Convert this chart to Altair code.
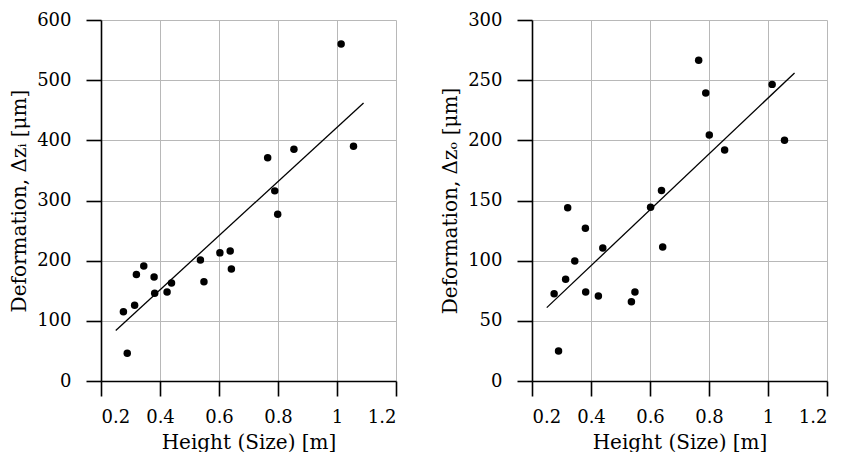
import altair as alt
import pandas as pd

# Heights [m] and deformations
height_i = [0.276, 0.289, 0.314, 0.320, 0.345, 0.380, 0.382, 0.424, 0.439, 0.537,
            0.549, 0.603, 0.638, 0.642, 0.765, 0.789, 0.799, 0.854, 1.014, 1.056]
dz_i = [115, 46, 126, 177, 191, 173, 146, 148, 163, 201,
        165, 213, 216, 186, 371, 316, 277, 385, 560, 390]

height_o = [0.275, 0.290, 0.314, 0.321, 0.345, 0.381, 0.382, 0.425, 0.440, 0.537,
            0.549, 0.602, 0.639, 0.643, 0.765, 0.789, 0.801, 0.853, 1.014, 1.056]
dz_o = [72.5, 25, 84.5, 144, 99.7, 127, 74, 70.7, 110.6, 65.8,
        74, 144.3, 158.4, 111.4, 266.6, 239.4, 204.4, 192, 246.5, 200]

# Linear fit lines (end points)
fit_x = [0.25, 1.09]
fit_i = [84, 462]
fit_o = [61, 256]

x_ticks = [0.2, 0.3, 0.4, 0.5, 0.6, 0.7, 0.8, 0.9, 1.0, 1.1, 1.2]
yi_ticks = [0, 50, 100, 150, 200, 250, 300, 350, 400, 450, 500, 550, 600]
yo_ticks = [0, 25, 50, 75, 100, 125, 150, 175, 200, 225, 250, 275, 300]

FONT = "DejaVu Serif, Liberation Serif, serif"

x_major = "round(datum.value*10) % 2 == 0"


def x_axis():
    return alt.Axis(
        values=x_ticks,
        title="Height (Size) [m]",
        labelExpr=f"{x_major} ? format(datum.value, '~g') : ''",
        tickSize={"condition": {"test": x_major, "value": 15}, "value": 8},
        tickWidth={"condition": {"test": x_major, "value": 1.6}, "value": 1.2},
        labelPadding=12,
        titlePadding=6,
    )


def y_axis(vals, step, title):
    test = f"datum.value % {step} == 0"
    return alt.Axis(
        values=vals,
        title=title,
        labelExpr=f"{test} ? format(datum.value, 'd') : ''",
        tickSize={"condition": {"test": test, "value": 15}, "value": 8},
        tickWidth={"condition": {"test": test, "value": 1.6}, "value": 1.2},
        labelPadding=15,
        titlePadding=7,
    )


def panel(hx, dy, fy, ymax, yvals, ystep, title):
    pts = pd.DataFrame({"h": hx, "d": dy})
    fit = pd.DataFrame({"h": fit_x, "d": fy})
    xs = alt.Scale(domain=[0.2, 1.2], nice=False, zero=False)
    ys = alt.Scale(domain=[0, ymax], nice=False)
    line = alt.Chart(fit).mark_line(color="black", strokeWidth=1.3).encode(
        x=alt.X("h:Q", scale=xs, axis=x_axis()),
        y=alt.Y("d:Q", scale=ys, axis=y_axis(yvals, ystep, title)),
    )
    dots = alt.Chart(pts).mark_circle(color="black", opacity=1, size=56).encode(
        x=alt.X("h:Q", scale=xs),
        y=alt.Y("d:Q", scale=ys),
    )
    return alt.layer(line, dots).properties(width=295, height=361)


left = panel(height_i, dz_i, fit_i, 600, yi_ticks, 100, "Deformation, Δzᵢ [μm]")
right = panel(height_o, dz_o, fit_o, 300, yo_ticks, 50, "Deformation, Δzₒ [μm]")

chart = alt.hconcat(left, right, spacing=43).properties(
    padding={"left": 1, "top": 3, "right": 5, "bottom": 0}
).configure_view(stroke=None).configure_axis(
    labelFont=FONT, titleFont=FONT, labelFontSize=18, titleFontSize=20,
    titleFontWeight="normal", labelColor="black", titleColor="black",
    domainColor="black", domainWidth=1.6, tickColor="black",
    gridColor="#b8b8b8", gridWidth=1, grid=True,
)

chart.save("out.html", embed_options={"renderer": "svg", "actions": False})
